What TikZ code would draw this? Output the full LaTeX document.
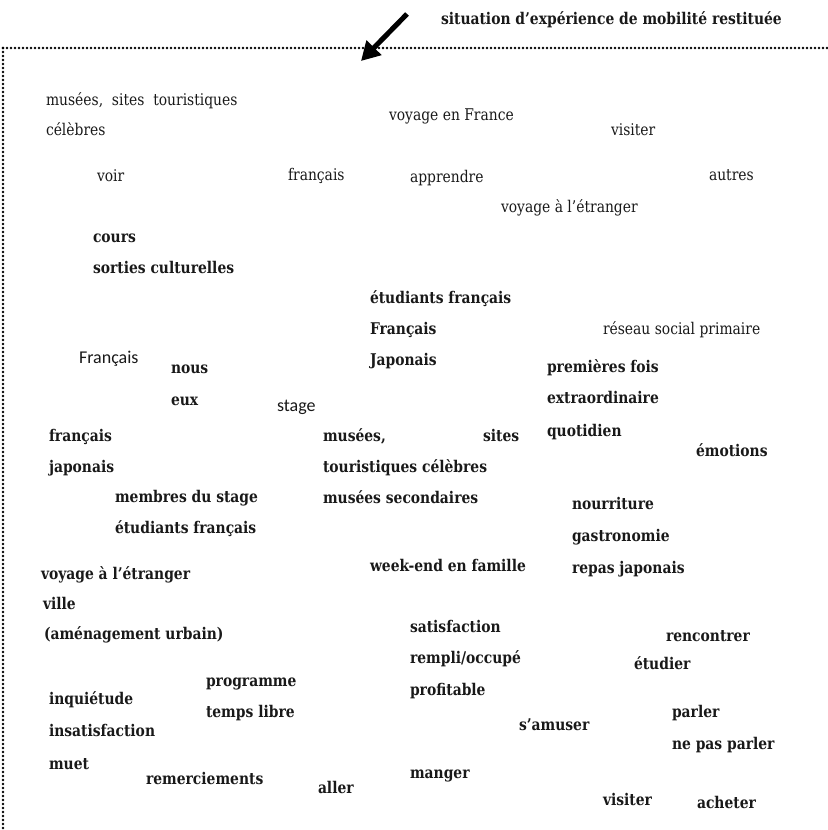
\documentclass[tikz,border=0pt]{standalone}
\usepackage{fontspec}
\setmainfont{DejaVu Serif}[FakeStretch=0.86]
\newfontfamily\sansf{Carlito}
\usetikzlibrary{arrows.meta}
\tikzset{
  lbl/.style={anchor=base west, inner sep=0pt, outer sep=0pt, text=black!90},
  reg/.style={lbl, font=\fontsize{12.1pt}{14pt}\selectfont},
  bld/.style={lbl, font=\fontsize{12.1pt}{14pt}\selectfont\bfseries},
  sns/.style={lbl, font=\fontsize{13.5pt}{16pt}\selectfont\sansf},
  dotline/.style={line width=2.2pt, dash pattern=on 0pt off 3pt, line cap=round, black},
  bigarrow/.style={line width=3.8pt, -{Triangle[length=14pt,width=15pt]}, black}
}
\begin{document}
\begin{tikzpicture}[x=0.75pt,y=-0.75pt]
\useasboundingbox (0,0) rectangle (827,830);
% frame
\coordinate (tl) at (3,48);
\coordinate (tr) at (827,48);
\coordinate (bl) at (3,830);
\draw[dotline] (tl) -- (tr);
\draw[dotline] (tl) -- (bl);
% arrow
\coordinate (as) at (407,14);
\coordinate (ae) at (361,61);
\draw[bigarrow] (as) -- (ae);
\node[bld] (title) at (441,25) {situation d’expérience de mobilité restituée};
% regular
\node[reg] (r1) at (46,106) {musées,\ \ sites\ \ touristiques};
\node[reg] (r2) at (46,136) {célèbres};
\node[reg] (r3) at (389,121) {voyage en France};
\node[reg] (r4) at (611,136) {visiter};
\node[reg] (r5) at (97,182) {voir};
\node[reg] (r6) at (288,181) {français};
\node[reg] (r7) at (410,183) {apprendre};
\node[reg] (r8) at (709,181) {autres};
\node[reg] (r9) at (501,213) {voyage à l’étranger};
\node[reg] (r10) at (603,334) {réseau social primaire};
% sans
\node[sns] (s1) at (79,363) {Français};
\node[sns] (s2) at (277,411) {stage};
% bold
\node[bld] (b1) at (93,243) {cours};
\node[bld] (b2) at (93,273) {sorties culturelles};
\node[bld] (b3) at (370,303) {étudiants français};
\node[bld] (b4) at (370,334) {Français};
\node[bld] (b5) at (370,365) {Japonais};
\node[bld] (b6) at (171,373) {nous};
\node[bld] (b7) at (171,405) {eux};
\node[bld] (b8) at (547,372) {premières fois};
\node[bld] (b9) at (547,403) {extraordinaire};
\node[bld] (b10) at (547,436) {quotidien};
\node[bld] (b11) at (696,456) {émotions};
\node[bld] (b12) at (49,441) {français};
\node[bld] (b13) at (49,472) {japonais};
\node[bld] (b14) at (323,441) {musées,};
\node[bld] (b15) at (483,441) {sites};
\node[bld] (b16) at (323,472) {touristiques célèbres};
\node[bld] (b17) at (115,502) {membres du stage};
\node[bld] (b18) at (323,503) {musées secondaires};
\node[bld] (b19) at (115,533) {étudiants français};
\node[bld] (b20) at (572,509) {nourriture};
\node[bld] (b21) at (572,541) {gastronomie};
\node[bld] (b22) at (370,571) {week-end en famille};
\node[bld] (b23) at (572,573) {repas japonais};
\node[bld] (b24) at (41,579) {voyage à l’étranger};
\node[bld] (b25) at (43,609) {ville};
\node[bld] (b26) at (44,639) {(aménagement urbain)};
\node[bld] (b27) at (410,632) {satisfaction};
\node[bld] (b28) at (666,641) {rencontrer};
\node[bld] (b29) at (410,663) {rempli/occupé};
\node[bld] (b30) at (634,669) {étudier};
\node[bld] (b31) at (206,686) {programme};
\node[bld] (b32) at (410,695) {profitable};
\node[bld] (b33) at (49,704) {inquiétude};
\node[bld] (b34) at (206,717) {temps libre};
\node[bld] (b35) at (672,717) {parler};
\node[bld] (b36) at (519,730) {s’amuser};
\node[bld] (b37) at (49,736) {insatisfaction};
\node[bld] (b38) at (672,749) {ne pas parler};
\node[bld] (b39) at (49,769) {muet};
\node[bld] (b40) at (410,778) {manger};
\node[bld] (b41) at (146,784) {remerciements};
\node[bld] (b42) at (318,793) {aller};
\node[bld] (b43) at (603,805) {visiter};
\node[bld] (b44) at (697,808) {acheter};
\end{tikzpicture}
\end{document}
